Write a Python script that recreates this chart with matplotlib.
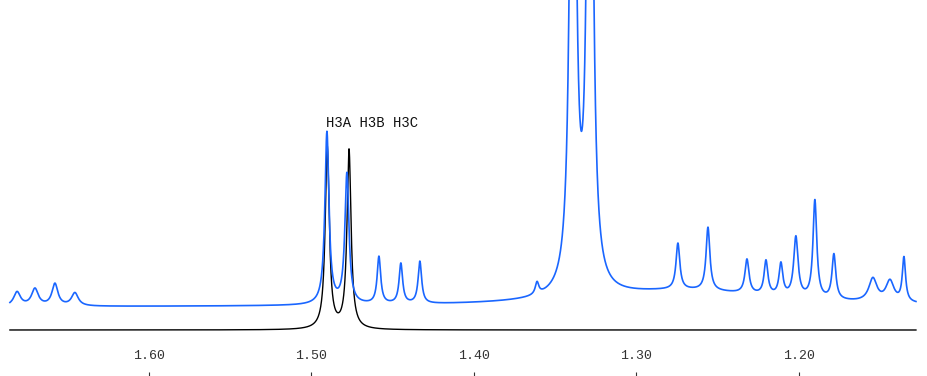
import numpy as np
import matplotlib
matplotlib.use("Agg")
import matplotlib.pyplot as plt

# ---- data (ppm, height, half-width in ppm) ----
# observed (blue) spectrum
blue_ppm = [1.6810, 1.6700, 1.6577, 1.6454,
            1.4903, 1.4780, 1.4583, 1.4448, 1.4331,
            1.3610, 1.3389, 1.3284, 1.2700,
            1.2743, 1.2558, 1.2318, 1.2201, 1.2109, 1.2017, 1.1900, 1.1783,
            1.1543, 1.1438, 1.1352]
blue_height = [14, 17, 22, 13,
               172, 130, 47, 40, 42,
               12, 860, 860, 16,
               46, 63, 34, 34, 32, 60, 98, 45,
               23, 21, 44]
blue_width = [0.0025, 0.0025, 0.0022, 0.0025,
              0.0015, 0.0015, 0.0013, 0.0013, 0.0013,
              0.0013, 0.00172, 0.00172, 0.070,
              0.0014, 0.0014, 0.0015, 0.0014, 0.0014, 0.0016, 0.0014, 0.0014,
              0.0030, 0.0030, 0.0012]
blue_offset = 23

# simulated (black) spectrum
sim_ppm = [1.4901, 1.4767]
sim_height = [182, 179]
sim_width = [0.0015, 0.0015]

tick_values = [1.60, 1.50, 1.40, 1.30, 1.20]
tick_labels = ["1.60", "1.50", "1.40", "1.30", "1.20"]
peak_label = "H3A H3B H3C"

ppm_start, ppm_end = 1.6854, 1.1278


def spectrum(x, centers, heights, widths, offset=0.0):
    y = np.full_like(x, offset, dtype=float)
    for c, h, w in zip(centers, heights, widths):
        y += h * w ** 2 / ((x - c) ** 2 + w ** 2)
    return y


x = np.linspace(ppm_start, ppm_end, 6000)
y_blue = spectrum(x, blue_ppm, blue_height, blue_width, blue_offset)
y_sim = spectrum(x, sim_ppm, sim_height, sim_width)

fig = plt.figure(figsize=(9.27, 3.76), dpi=100)
ax = fig.add_axes([0, 0, 1, 1])
ax.plot(x, y_sim, color="black", lw=1.0, zorder=2)
ax.plot(x, y_blue, color="#1a66ff", lw=1.2, zorder=3)

ax.set_xlim(1.6915, 1.1210)
ax.set_ylim(-46, 330)

for s in ax.spines.values():
    s.set_visible(False)
ax.set_yticks([])
ax.set_xticks(tick_values)
ax.set_xticklabels(tick_labels, family="Liberation Mono", fontsize=9.5, color="#333333")
ax.tick_params(axis="x", direction="in", length=3.2, width=0.8, color="#333333",
               pad=-18.5)

ax.text(1.4909, 203.3, peak_label, family="Liberation Mono", fontsize=10,
        ha="left", va="baseline", color="#111111")

fig.savefig("out.png", dpi=100)
